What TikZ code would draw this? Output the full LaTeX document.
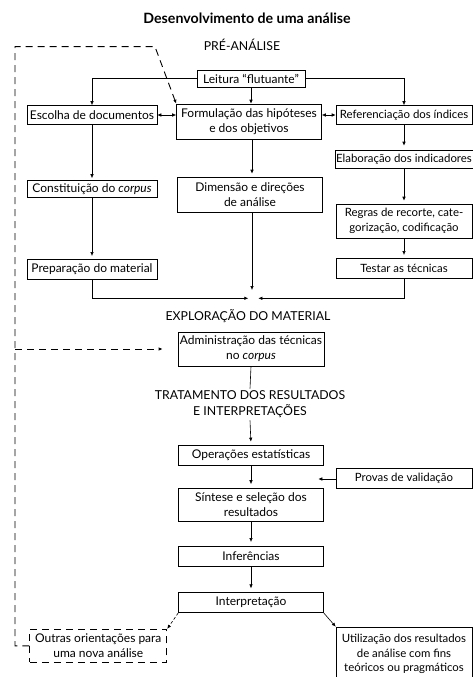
\documentclass[tikz,border=0pt]{standalone}
\usepackage{fontspec}
\setmainfont{Lato}
\usetikzlibrary{arrows.meta}

\begin{document}
\begin{tikzpicture}[x=1pt,y=-1pt,
    font=\fontsize{12}{15}\selectfont,
    line width=0.6pt,
    >={Latex[length=4pt,width=3.5pt]},
    box/.style={draw,inner sep=2pt,minimum height=19pt,align=center},
    mid/.style={box,minimum width=145pt},
    lft/.style={box,minimum width=130pt},
    rgt/.style={box,minimum width=136pt,inner sep=1pt,font=\fontsize{11.4}{14.5}\selectfont},
    stage/.style={align=center,inner sep=2pt},
    feedback/.style={dash pattern=on 7pt off 5pt,line width=0.9pt}]
  \useasboundingbox (0,0) rectangle (473,677);
  \clip (0,0) rectangle (473,677);

  % headings
  \node[font=\bfseries\fontsize{14.2}{16}\selectfont] (titulo) at (247,18) {Desenvolvimento de uma análise};
  \node[stage,font=\fontsize{12.3}{15}\selectfont] (pre) at (242,45) {PRÉ-ANÁLISE};
  \node[stage,font=\fontsize{12.3}{15}\selectfont] (exploracao) at (248,316) {EXPLORAÇÃO DO MATERIAL};
  \node[stage,font=\fontsize{12.3}{16}\selectfont] (tratamento) at (250,404.5) {TRATAMENTO DOS RESULTADOS\\E INTERPRETAÇÕES};

  % pre-analise
  \node[box,minimum width=108pt,minimum height=17pt] (leitura) at (251,78.5) {Leitura “flutuante”};
  \node[lft] (escolha) at (92,115) {Escolha de documentos};
  \node[mid,minimum height=35pt] (formulacao) at (249,121.5) {Formulação das hipóteses\\e dos objetivos};
  \node[rgt] (referencia) at (404,115) {Referenciação dos índices};
  \node[rgt,minimum height=18pt] (elaboracao) at (404,159) {Elaboração dos indicadores};
  \node[lft,minimum height=17pt] (constituicao) at (92,189) {Constituição do \textit{corpus}};
  \node[mid,minimum height=35pt] (dimensao) at (250,194.5) {Dimensão e direções\\de análise};
  \node[rgt,minimum height=34pt] (regras) at (404,221) {Regras de recorte, cate-\\gorização, codificação};
  \node[lft,minimum height=20pt] (preparacao) at (92,269.3) {Preparação do material};
  \node[rgt,minimum height=20pt] (testar) at (404,268.3) {Testar as técnicas};

  % exploracao e tratamento
  \node[mid,minimum height=34pt] (administracao) at (251,349) {Administração das técnicas\\no \textit{corpus}};
  \node[mid,minimum height=20pt] (operacoes) at (251,455) {Operações estatísticas};
  \node[rgt,minimum height=20pt] (provas) at (404,478.3) {Provas de validação};
  \node[mid,minimum height=33pt] (sintese) at (251,505) {Síntese e seleção dos\\resultados};
  \node[mid,minimum height=20pt] (inferencias) at (251,556.3) {Inferências};
  \node[mid,minimum height=20pt] (interpretacao) at (251,602.7) {Interpretação};
  \node[box,feedback,minimum width=137pt,minimum height=33pt] (outras) at (98.3,645.8) {Outras orientações para\\uma nova análise};
  \node[rgt,minimum height=54pt] (utilizacao) at (404,654) {Utilização dos resultados\\de análise com fins\\teóricos ou pragmáticos};

  \coordinate (junta) at (248.3,298.3);
  \coordinate (juntb) at (258.3,298.3);
  \coordinate (juntm) at (252,290);
  \coordinate (validacao) at (318.3,479);
  \coordinate (cantoa) at (15,46.7);
  \coordinate (cantob) at (155,46.7);

  \draw[->] (leitura.west) -| (escolha.north);
  \draw[->] (leitura.east) -| (referencia.north);
  \draw[->] (leitura.south) -- (leitura.south |- formulacao.north);
  \draw[<->] (escolha.east) -- (escolha.east -| formulacao.west);
  \draw[<->] (referencia.west -| formulacao.east) -- (referencia.west);
  \draw[->,shorten >=2pt] (escolha) -- (constituicao);
  \draw[->,shorten >=4pt] (referencia) -- (elaboracao);
  \draw[->,shorten >=3pt] (formulacao.south -| juntm) -- (dimensao.north -| juntm);
  \draw[->,shorten >=3pt] (elaboracao) -- (regras);
  \draw[->,shorten >=3pt] (constituicao) -- (preparacao);
  \draw[->,shorten >=3pt] (regras) -- (testar);
  \draw[->] (preparacao.south) |- (junta);
  \draw[->] (testar.south) |- (juntb);
  \draw[->] (dimensao.south -| juntm) -- (juntm);
  \draw (administracao.south) -- (tratamento.north);
  \draw[->,shorten >=3pt] (tratamento.south) -- (operacoes.north);
  \draw[->,shorten >=4pt] (operacoes) -- (sintese);
  \draw[->] (provas.west |- validacao) -- (validacao);
  \draw[->,shorten >=4pt] (sintese) -- (inferencias);
  \draw[->,shorten >=4pt] (inferencias) -- (interpretacao);
  \draw[->] (interpretacao.south east) -- (utilizacao.north west);
  \draw[feedback,line width=0.6pt,dash pattern=on 3pt off 2pt,->] (interpretacao.south west) -- (outras.north east);

  % retorno
  \draw[feedback,->] (outras.west) -- (outras.west -| cantoa) -- (cantoa) -- (cantob) -- (formulacao.north west);
  \draw[feedback,->,shorten >=15pt] (cantoa |- administracao.west) -- (administracao.west);
\end{tikzpicture}
\end{document}
